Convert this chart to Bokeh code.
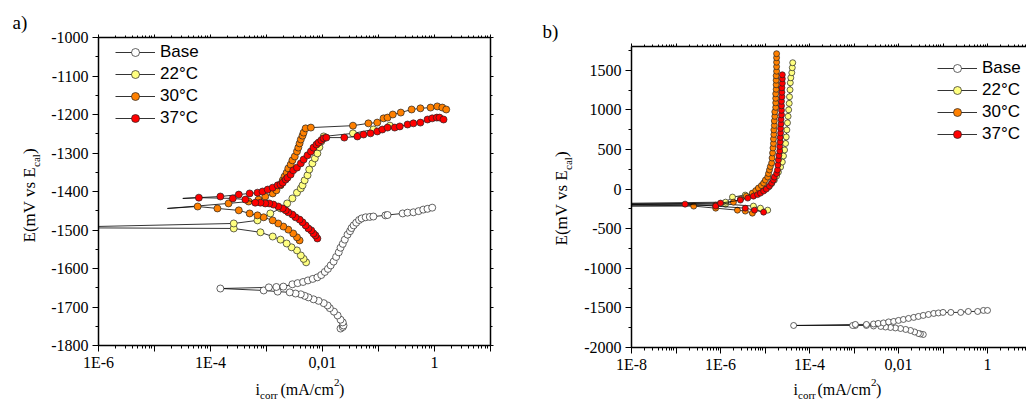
import math
from bokeh.plotting import figure
from bokeh.layouts import row, column
from bokeh.models import (Range1d, FixedTicker, SingleIntervalTicker, CustomJSTickFormatter,
                          LinearAxis, LogAxis, Label, Legend, LegendItem)
from bokeh.embed import file_html
from bokeh.resources import INLINE

SERIF = "Liberation Serif"
SANS = "Liberation Sans"

SERIES_NAMES = ["Base", "22°C", "30°C", "37°C"]
SERIES_COLORS = ["#FFFFFF", "#FFFF80", "#FF8000", "#FF0000"]

X_TICK_VALUES = [1e-8, 1e-6, 1e-4, 1e-2, 1]
X_TICK_LABELS = ["1E-8", "1E-6", "1E-4", "0,01", "1"]

# ---------------- panel a) : i (mA/cm2), E (mV) ----------------
A_BASE_CATH_I = [0.021, 0.023, 0.0237, 0.023, 0.021, 0.0186, 0.016, 0.0135, 0.0123, 0.0105, 0.0085, 0.0069,
                 0.0056, 0.0048, 0.0041, 0.0033, 0.0026, 0.00158, 0.00089, 0.00015]
A_BASE_CATH_E = [-1756, -1752, -1748, -1740, -1733, -1722, -1712, -1703, -1696, -1690, -1684, -1680,
                 -1675, -1671, -1667, -1665, -1662, -1660, -1657, -1652]
A_BASE_AN_I = [0.0011, 0.0015, 0.0020, 0.0029, 0.0036, 0.0045, 0.0055, 0.0067, 0.0081, 0.0095, 0.0110, 0.0125,
               0.0140, 0.0158, 0.0175, 0.0195, 0.021, 0.023, 0.025, 0.028, 0.031, 0.033, 0.036, 0.040, 0.045,
               0.050, 0.059, 0.070, 0.081, 0.133, 0.145, 0.27, 0.33, 0.42, 0.52, 0.63, 0.75, 0.91]
A_BASE_AN_E = [-1649, -1648, -1647, -1641, -1638, -1635, -1631, -1627, -1623, -1617, -1609, -1601,
               -1592, -1582, -1570, -1558, -1546, -1536, -1525, -1512, -1503, -1495, -1488, -1481, -1474,
               -1470, -1467, -1466, -1465, -1462, -1461, -1457, -1455, -1454, -1451, -1447, -1445, -1442]
A_BASE_TAIL_I = []
A_BASE_TAIL_E = []

A_22_CATH_I = [0.0051, 0.0046, 0.0041, 0.0035, 0.0028, 0.00229, 0.00178, 0.00129, 0.00078, 0.00026]
A_22_CATH_E = [-1584, -1575, -1566, -1553, -1545, -1535, -1525, -1517, -1506, -1496]
A_22_TAIL_I = [1e-7]
A_22_TAIL_E = [-1494]
A_22_AN_I = [0.00026, 0.00069, 0.00117, 0.00178, 0.00234, 0.0029, 0.0035, 0.0041, 0.0044, 0.0048, 0.0054,
             0.0058, 0.0066, 0.0073, 0.0081, 0.0088, 0.0095, 0.0105, 0.035, 0.081, 0.16]
A_22_AN_E = [-1483, -1475, -1457, -1444, -1431, -1418, -1403, -1392, -1384, -1371, -1358,
             -1343, -1327, -1314, -1301, -1285, -1270, -1257, -1249, -1239, -1229]

A_30_CATH_I = [0.0039, 0.0035, 0.0030, 0.00245, 0.0020, 0.00162, 0.00129, 0.00089, 0.00069, 0.0005, 0.00032,
               0.000133, 5.9e-5]
A_30_CATH_E = [-1527, -1519, -1509, -1499, -1491, -1483, -1475, -1467, -1462, -1457, -1449, -1444, -1439]
A_30_TAIL_I = [1.7e-5]
A_30_TAIL_E = [-1444]
A_30_AN_I = [0.00021, 0.00048, 0.00072, 0.00095, 0.00129, 0.0015, 0.00178, 0.00195, 0.0021, 0.00229, 0.00245,
             0.0027, 0.0029, 0.0032, 0.0035, 0.0037, 0.0039, 0.0041, 0.0044, 0.0046, 0.0050, 0.0062,
             0.035, 0.066, 0.095, 0.123, 0.145, 0.18, 0.25, 0.39, 0.56, 0.85, 1.12, 1.38, 1.62]
A_30_AN_E = [-1431, -1426, -1421, -1413, -1405, -1397, -1384, -1371, -1361, -1351, -1340,
             -1330, -1319, -1309, -1296, -1286, -1275, -1265, -1255, -1247, -1236, -1234,
             -1229, -1223, -1221, -1210, -1208, -1200, -1195, -1187, -1184, -1182, -1179, -1182, -1187]

A_37_CATH_I = [0.0081, 0.0075, 0.0069, 0.0063, 0.0056, 0.0050, 0.0044, 0.0039, 0.0033, 0.0029, 0.00245,
               0.0022, 0.00195, 0.00162, 0.00133, 0.00112, 0.00095, 0.00078, 0.00063, 0.00042, 0.00025, 6.2e-5]
A_37_CATH_E = [-1522, -1514, -1509, -1501, -1496, -1488, -1480, -1473, -1467, -1460, -1454,
               -1449, -1444, -1439, -1434, -1431, -1431, -1429, -1429, -1421, -1418, -1416]
A_37_TAIL_I = [3.2e-5]
A_37_TAIL_E = [-1418]
A_37_AN_I = [0.00015, 0.00032, 0.0005, 0.00069, 0.00085, 0.00105, 0.00129,
             0.00158, 0.00178, 0.00195, 0.0022, 0.00237, 0.0027, 0.0030, 0.0035, 0.0041, 0.0046, 0.0054,
             0.0062, 0.0069, 0.0078, 0.0085, 0.0095, 0.0105, 0.0117,
             0.0245, 0.042, 0.054, 0.072, 0.095, 0.117, 0.145, 0.195, 0.24, 0.33, 0.42, 0.56, 0.75,
             0.91, 1.1, 1.23, 1.45]
A_37_AN_E = [-1413, -1408, -1405, -1403, -1400, -1395, -1390,
             -1384, -1382, -1377, -1369, -1364, -1356, -1345, -1338, -1327, -1317, -1306,
             -1296, -1286, -1278, -1273, -1267, -1262, -1260,
             -1260, -1257, -1252, -1249, -1244, -1239, -1234, -1234, -1231, -1226, -1223, -1221, -1213,
             -1210, -1208, -1208, -1213]

# ---------------- panel b) ----------------
B_BASE_CATH_I = [0.036, 0.031, 0.028, 0.023, 0.0186, 0.0145, 0.0111, 0.0085, 0.0066, 0.0051, 0.0040,
                 0.00275, 0.0019, 0.00107, 0.00093, 4.4e-5]
B_BASE_CATH_E = [-1836, -1829, -1823, -1804, -1785, -1772, -1760, -1753, -1747, -1741, -1734,
                 -1728, -1722, -1722, -1722, -1722]
B_BASE_TAIL_I = []
B_BASE_TAIL_E = []
B_BASE_AN_I = [0.00107, 0.0019, 0.00275, 0.0035, 0.0046, 0.006, 0.0078, 0.010, 0.0129, 0.0168, 0.022, 0.028,
               0.036, 0.047, 0.062, 0.079, 0.10, 0.15, 0.25, 0.37, 0.60, 0.81, 1.0]
B_BASE_AN_E = [-1709, -1709, -1703, -1696, -1690, -1677, -1671, -1658, -1646, -1633, -1620, -1608,
               -1595, -1583, -1570, -1564, -1557, -1557, -1557, -1545, -1545, -1532, -1532]

B_22_CATH_I = [1.15e-5, 7.9e-6, 5.5e-6, 1.3e-6]
B_22_CATH_E = [-266, -241, -215, -190]
B_22_TAIL_I = [1e-9]
B_22_TAIL_E = [-185]
B_22_AN_I = [1.3e-6, 1.86e-6, 3.6e-6, 6.2e-6, 7.9e-6, 9.8e-6, 1.2e-5, 1.41e-5, 1.62e-5, 1.82e-5, 2.0e-5,
             2.24e-5, 2.45e-5, 2.6e-5, 2.75e-5, 2.9e-5, 3.0e-5, 3.1e-5, 3.2e-5, 3.3e-5, 3.4e-5, 3.5e-5,
             3.55e-5, 3.65e-5, 3.7e-5, 3.8e-5, 4.0e-5, 4.1e-5, 4.2e-5]
B_22_AN_E = [-165, -101, -76, -57, -38, -6, 25, 70, 114, 165, 215, 279, 342, 418, 494, 576, 658, 747, 836,
             918, 1000, 1082, 1165, 1253, 1342, 1405, 1469, 1532, 1595]

B_30_CATH_I = [5.2e-6, 3.6e-6, 2.4e-6, 7.8e-7, 2.5e-7]
B_30_CATH_E = [-304, -278, -266, -241, -215]
B_30_TAIL_I = [1e-9]
B_30_TAIL_E = [-215]
B_30_AN_I = [7.8e-7, 1.95e-6, 2.8e-6, 3.8e-6, 5.2e-6, 6.2e-6, 7.1e-6, 8.3e-6, 9.3e-6, 1.02e-5, 1.15e-5,
             1.2e-5, 1.26e-5, 1.32e-5, 1.41e-5, 1.44e-5, 1.48e-5, 1.51e-5, 1.55e-5, 1.55e-5, 1.58e-5, 1.58e-5,
             1.62e-5, 1.62e-5, 1.66e-5, 1.66e-5, 1.74e-5, 1.74e-5, 1.74e-5, 1.74e-5, 1.78e-5, 1.78e-5,
             1.78e-5, 1.78e-5, 1.82e-5, 1.82e-5, 1.82e-5, 1.82e-5, 1.82e-5]
B_30_AN_E = [-203, -165, -127, -89, -51, -19, 13, 44, 76, 114, 152, 196, 241, 285, 329, 392, 456, 519, 576,
             633, 690, 747, 804, 861, 918, 975, 1032, 1089, 1146, 1203, 1260, 1317, 1374, 1431, 1488, 1545,
             1601, 1658, 1709]

B_37_CATH_I = [9.3e-6, 5.8e-6, 3.6e-6, 7.8e-7, 1.6e-7]
B_37_CATH_E = [-291, -266, -241, -215, -190]
B_37_TAIL_I = [1e-9]
B_37_TAIL_E = [-200]
B_37_AN_I = [1.0e-6, 2.8e-6, 4.1e-6, 5.5e-6, 6.8e-6, 7.9e-6, 9.3e-6, 1.07e-5, 1.26e-5, 1.41e-5, 1.55e-5,
             1.62e-5, 1.82e-5, 1.91e-5, 1.95e-5, 2.0e-5, 2.05e-5, 2.14e-5, 2.14e-5, 2.19e-5, 2.19e-5,
             2.24e-5, 2.24e-5, 2.29e-5, 2.29e-5, 2.35e-5, 2.35e-5, 2.35e-5, 2.35e-5, 2.4e-5, 2.4e-5,
             2.4e-5, 2.45e-5, 2.45e-5, 2.45e-5]
B_37_AN_E = [-177, -139, -114, -89, -70, -51, -25, 0, 38, 76, 114, 152, 196, 241, 304, 367, 424, 481, 538,
             595, 652, 709, 766, 823, 880, 937, 994, 1051, 1108, 1165, 1222, 1279, 1336, 1393, 1443]

A_SERIES = [
    (A_BASE_CATH_I, A_BASE_CATH_E, A_BASE_TAIL_I, A_BASE_TAIL_E, A_BASE_AN_I, A_BASE_AN_E),
    (A_22_CATH_I, A_22_CATH_E, A_22_TAIL_I, A_22_TAIL_E, A_22_AN_I, A_22_AN_E),
    (A_30_CATH_I, A_30_CATH_E, A_30_TAIL_I, A_30_TAIL_E, A_30_AN_I, A_30_AN_E),
    (A_37_CATH_I, A_37_CATH_E, A_37_TAIL_I, A_37_TAIL_E, A_37_AN_I, A_37_AN_E),
]
B_SERIES = [
    (B_BASE_CATH_I, B_BASE_CATH_E, B_BASE_TAIL_I, B_BASE_TAIL_E, B_BASE_AN_I, B_BASE_AN_E),
    (B_22_CATH_I, B_22_CATH_E, B_22_TAIL_I, B_22_TAIL_E, B_22_AN_I, B_22_AN_E),
    (B_30_CATH_I, B_30_CATH_E, B_30_TAIL_I, B_30_TAIL_E, B_30_AN_I, B_30_AN_E),
    (B_37_CATH_I, B_37_CATH_E, B_37_TAIL_I, B_37_TAIL_E, B_37_AN_I, B_37_AN_E),
]


def log_ticker(lo, hi):
    majors = [10.0 ** k for k in range(lo, hi + 1)]
    minors = [m * 10.0 ** k for k in range(lo, hi + 1) for m in range(2, 10)]
    return FixedTicker(ticks=majors, minor_ticks=minors)


def x_formatter():
    return CustomJSTickFormatter(args=dict(vals=X_TICK_VALUES, labs=X_TICK_LABELS), code="""
        for (let i = 0; i < vals.length; i++) {
            if (Math.abs(Math.log10(tick) - Math.log10(vals[i])) < 1e-6) return labs[i];
        }
        return "";
    """)


def y_formatter():
    return CustomJSTickFormatter(code="return tick.toFixed(0);")


def blank_formatter():
    return CustomJSTickFormatter(code="return '';")


def style_axis(ax, tick_out, minor_out, lw=1.5):
    ax.axis_line_width = lw
    ax.axis_line_color = "black"
    ax.major_tick_line_color = "black"
    ax.minor_tick_line_color = "black"
    ax.major_tick_line_width = 1
    ax.minor_tick_line_width = 1
    ax.major_tick_out = tick_out
    ax.major_tick_in = 0
    ax.minor_tick_out = minor_out
    ax.minor_tick_in = 0
    ax.major_label_text_font = SERIF
    ax.major_label_text_font_size = "16px"
    ax.major_label_text_color = "black"


def make_panel(series, width, height, xr, yr, decades, y_interval, borders, mirror_right, marker_size,
               legend_loc):
    bl, br, bt, bb = borders
    p = figure(width=width, height=height, x_axis_type="log", x_range=Range1d(*xr), y_range=Range1d(*yr),
               output_backend="svg", toolbar_location=None, title=None, min_border_left=bl,
               min_border_right=br, min_border_top=bt, min_border_bottom=bb, frame_align=False,
               background_fill_color="white", border_fill_color="white")
    p.outline_line_color = None
    p.grid.visible = False

    xa = p.xaxis[0]
    xa.ticker = log_ticker(*decades)
    xa.formatter = x_formatter()
    style_axis(xa, 6, 3)
    xa.major_label_standoff = 2

    ya = p.yaxis[0]
    ya.ticker = SingleIntervalTicker(interval=y_interval, num_minor_ticks=2)
    ya.formatter = y_formatter()
    style_axis(ya, 6, 3)
    ya.major_label_standoff = 4

    top = LogAxis(ticker=log_ticker(*decades), formatter=blank_formatter())
    style_axis(top, 3, 2)
    p.add_layout(top, "above")
    if mirror_right:
        right = LinearAxis(ticker=SingleIntervalTicker(interval=y_interval, num_minor_ticks=2),
                           formatter=blank_formatter())
        style_axis(right, 3, 2)
        p.add_layout(right, "right")

    items = []
    for (ci, ce, ti, te, ai, ae), name, col in zip(series, SERIES_NAMES, SERIES_COLORS):
        lr = p.line(ci + ti + ai, ce + te + ae, line_color="black", line_width=0.8)
        sr = p.scatter(ci + ai, ce + ae, size=marker_size, marker="circle", fill_color=col,
                       line_color="#222222", line_width=0.7)
        items.append(LegendItem(label=name, renderers=[lr, sr]))

    leg = Legend(items=items, location=legend_loc, glyph_width=40, glyph_height=20, label_height=20,
                 spacing=2, padding=0, margin=0, label_standoff=5, label_text_font=SANS,
                 label_text_font_size="17px", label_text_color="black", border_line_color=None,
                 background_fill_alpha=0)
    p.add_layout(leg)
    return p


MID = 0.34  # distance (in em) from the alphabetic baseline to the middle of the text box


def text_fig(w, h, labels):
    """A blank strip whose frame is the whole strip.
    labels: (x, y_from_top, text, size_px, rotated) with (x, y) the start of the text baseline."""
    f = figure(width=w, height=h, x_range=Range1d(0, w), y_range=Range1d(0, h),
               min_border_left=0, min_border_right=0, min_border_top=0, min_border_bottom=0,
               frame_align=False, toolbar_location=None, title=None, output_backend="svg",
               x_axis_location=None, y_axis_location=None, background_fill_color="white",
               border_fill_color="white")
    f.outline_line_color = None
    f.grid.visible = False
    for x, y, text, size, rotated in labels:
        if rotated:
            lx, ly, ang = x - MID * size, h - y, math.pi / 2
        else:
            lx, ly, ang = x, h - (y - MID * size), 0.0
        f.add_layout(Label(x=lx, y=ly, text=text, text_font=SERIF, text_font_size=f"{size}px",
                           text_color="black", angle=ang, text_align="left", text_baseline="middle"))
    return f


TOP_H = 376

# ---- panel a: page x 0..520 ; frame left 98, right 490, top 37, bottom 345
left_a = text_fig(45, TOP_H, [
    (12, 28, "a)", 19, False),
    (35, 242, "E(mV vs E", 17, True),
    (39, 166.5, "cal", 11, True),
    (35, 153.5, ")", 17, True),
])
pa = make_panel(A_SERIES, 475, TOP_H, (1e-6, 10), (-1800, -1000), (-6, 1), 100, (53, 30, 37, 31), True, 7,
                (17, 217))

# ---- panel b: page x 520..1026 ; frame left 631, top 46, bottom 347, right 1026
left_b = text_fig(55, TOP_H, [
    (22, 37, "b)", 19, False),
    (47, 245, "E(mV vs E", 17, True),
    (51, 169.5, "cal", 11, True),
    (47, 156.5, ")", 17, True),
])
pb = make_panel(B_SERIES, 451, TOP_H, (1e-8, 10 ** 0.876), (-2000, 1800), (-8, 1), 500, (56, 0, 46, 29),
                False, 6, (306, 203))

# ---- x-axis titles: one strip across the page (page x coordinates, y measured from y=376)
bottom = text_fig(1026, 400 - TOP_H, [
    (255, 18, "i", 16, False),
    (259.5, 22, "corr", 11, False),
    (280, 18, "(mA/cm", 16, False),
    (333.5, 10, "2", 11, False),
    (338.5, 18, ")", 16, False),
    (793, 18, "i", 16, False),
    (797.5, 22, "corr", 11, False),
    (817, 18, "(mA/cm", 16, False),
    (870.5, 10, "2", 11, False),
    (875.5, 18, ")", 16, False),
])

layout = column(row(left_a, pa, left_b, pb, spacing=0), bottom, spacing=0)
open("out.html", "w").write(file_html(layout, INLINE))
